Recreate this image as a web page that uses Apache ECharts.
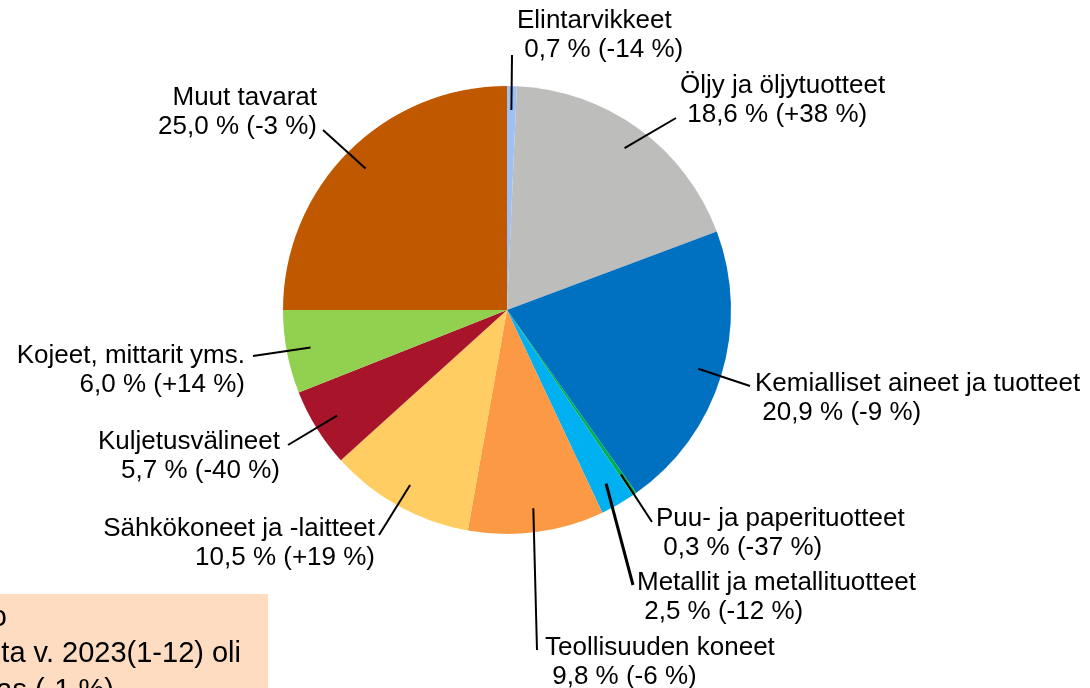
<!DOCTYPE html>
<html>
<head>
<meta charset="utf-8">
<script src="https://cdn.jsdelivr.net/npm/echarts@6/dist/echarts.min.js"></script>
<style>
  html, body { margin: 0; padding: 0; background: #ffffff; }
  #chart { width: 1090px; height: 688px; }
</style>
</head>
<body>
<div id="chart"></div>
<script>
// ---- Data ----
const categories = [
  'Elintarvikkeet',
  'Öljy ja öljytuotteet',
  'Kemialliset aineet ja tuotteet',
  'Puu- ja paperituotteet',
  'Metallit ja metallituotteet',
  'Teollisuuden koneet',
  'Sähkökoneet ja -laitteet',
  'Kuljetusvälineet',
  'Kojeet, mittarit yms.',
  'Muut tavarat'
];
const shares = [0.7, 18.6, 20.9, 0.3, 2.5, 9.8, 10.5, 5.7, 6.0, 25.0];
const changes = [-14, 38, -9, -37, -12, -6, 19, -40, 14, -3];
const noteLines = ['o', 'ta v. 2023(1-12) oli', 'as (-1 %)'];

// ---- Styles / layout ----
const colors = ['#9fc0f5', '#bdbdbc', '#0070c0', '#00b050', '#00b0f0',
                '#fb9944', '#ffcd61', '#a8152b', '#92d050', '#c05800'];
const center = [507, 310];
const radius = 224;
const lineStartR = 200;
// label anchor x, block-center y, alignment, leader line end point
const labelPos = [
  [517, 35, 'left', [512, 55]],
  [680, 100, 'left', [676, 118]],
  [755, 398, 'left', [750, 386]],
  [656, 533, 'left', [652, 522]],
  [637, 597, 'left', [633, 585]],
  [545, 662, 'left', [537, 650]],
  [375, 543, 'right', [379, 535]],
  [280, 456, 'right', [288, 445]],
  [245, 370, 'right', [253, 356]],
  [317, 112, 'right', [323, 130]]
];
const noteFont = '29px "Liberation Sans", Arial, sans-serif';

function fmtNum(v) { return v.toFixed(1).replace('.', ','); }
function fmtChg(v) { return (v > 0 ? '+' : '') + v; }

const total = shares.reduce((a, b) => a + b, 0);
const midAngles = [];
(function () {
  let acc = 0;
  for (let i = 0; i < shares.length; i++) {
    const a0 = acc / total * 360;
    acc += shares[i];
    const a1 = acc / total * 360;
    midAngles.push((a0 + a1) / 2);
  }
})();

const chart = echarts.init(document.getElementById('chart'), null, { renderer: 'canvas' });

const option = {
  backgroundColor: '#ffffff',
  animation: false,
  graphic: [
    {
      type: 'rect',
      shape: { x: -10, y: 594, width: 278, height: 120 },
      style: { fill: '#fddcc2' },
      z: 0
    },
    {
      type: 'text', x: 7, y: 618,
      style: { text: noteLines[0], align: 'right', verticalAlign: 'middle',
               font: noteFont, fill: '#000' }, z: 1
    },
    {
      type: 'text', x: 241, y: 654,
      style: { text: noteLines[1], align: 'right', verticalAlign: 'middle',
               font: noteFont, fill: '#000' }, z: 1
    },
    {
      type: 'text', x: 114, y: 691,
      style: { text: noteLines[2], align: 'right', verticalAlign: 'middle',
               font: noteFont, fill: '#000' }, z: 1
    }
  ],
  series: [
    {
      // the coloured slices
      type: 'pie',
      z: 2,
      center: center,
      radius: radius,
      startAngle: 90,
      clockwise: true,
      silent: true,
      data: categories.map((name, i) => ({
        name: name,
        value: shares[i],
        itemStyle: { color: colors[i] }
      })),
      label: { show: false },
      labelLine: { show: false },
      emphasis: { disabled: true }
    },
    {
      // transparent overlay carrying the labels and leader lines above the slices
      type: 'pie',
      z: 3,
      center: center,
      radius: radius,
      startAngle: 90,
      clockwise: true,
      silent: true,
      avoidLabelOverlap: false,
      data: categories.map((name, i) => ({
        name: name,
        value: shares[i],
        itemStyle: { color: 'rgba(0,0,0,0)' },
        labelLine: { lineStyle: { width: i === 4 ? 3 : 2 } }
      })),
      label: {
        show: true,
        position: 'outside',
        color: '#000',
        fontSize: 26,
        lineHeight: 29,
        fontFamily: '"Liberation Sans", Arial, sans-serif',
        formatter: function (p) {
          const i = p.dataIndex;
          return categories[i] + '\n ' + fmtNum(shares[i]) + ' % (' + fmtChg(changes[i]) + ' %)';
        }
      },
      labelLine: {
        show: true,
        length: 10,
        length2: 10,
        lineStyle: { color: '#000', width: 2 }
      },
      labelLayout: function (params) {
        const i = params.dataIndex;
        const lp = labelPos[i];
        const ang = midAngles[i] * Math.PI / 180;
        const sx = center[0] + lineStartR * Math.sin(ang);
        const sy = center[1] - lineStartR * Math.cos(ang);
        return {
          x: lp[0],
          y: lp[1],
          align: lp[2],
          verticalAlign: 'middle',
          labelLinePoints: [[sx, sy], lp[3]]
        };
      },
      emphasis: { disabled: true }
    }
  ]
};

chart.setOption(option);
</script>
</body>
</html>
